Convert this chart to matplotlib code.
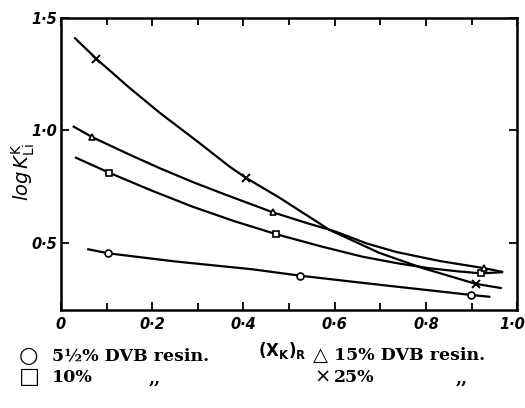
import matplotlib
matplotlib.use("Agg")
import matplotlib.pyplot as plt
import matplotlib.transforms as mtransforms
from matplotlib.ticker import FixedLocator

# measured points (markers)
circ_x = [0.104, 0.523, 0.899]
circ_y = [0.454, 0.355, 0.269]
sq_x = [0.106, 0.472, 0.921]
sq_y = [0.812, 0.539, 0.365]
tri_x = [0.069, 0.465, 0.928]
tri_y = [0.970, 0.636, 0.388]
cross_x = [0.078, 0.406, 0.910]
cross_y = [1.318, 0.789, 0.318]

# drawn curves
circ_cx = [0.060, 0.104, 0.250, 0.420, 0.523, 0.630, 0.735, 0.820, 0.899, 0.939]
circ_cy = [0.472, 0.454, 0.418, 0.383, 0.355, 0.330, 0.306, 0.287, 0.269, 0.261]
sq_cx = [0.033, 0.106, 0.200, 0.289, 0.380, 0.472, 0.570, 0.661, 0.740, 0.807, 0.870, 0.921, 0.967]
sq_cy = [0.879, 0.812, 0.732, 0.661, 0.597, 0.539, 0.485, 0.439, 0.409, 0.388, 0.374, 0.365, 0.370]
tri_cx = [0.028, 0.069, 0.150, 0.217, 0.290, 0.363, 0.465, 0.540, 0.603, 0.670, 0.735, 0.830, 0.928, 0.967]
tri_cy = [1.017, 0.970, 0.893, 0.832, 0.770, 0.713, 0.636, 0.588, 0.550, 0.498, 0.460, 0.420, 0.388, 0.372]
cross_cx = [0.031, 0.078, 0.150, 0.217, 0.300, 0.370, 0.406, 0.480, 0.589, 0.698, 0.792, 0.910, 0.964]
cross_cy = [1.410, 1.318, 1.190, 1.078, 0.950, 0.839, 0.789, 0.700, 0.558, 0.456, 0.389, 0.318, 0.300]

xticks = [0, 0.2, 0.4, 0.6, 0.8, 1.0]
xlabels = ["0", "0·2", "0·4", "0·6", "0·8", "1·0"]
yticks = [0.5, 1.0, 1.5]
ylabels = ["0·5", "1·0", "1·5"]

fig = plt.figure(figsize=(5.25, 4.08), dpi=100)
ax = fig.add_axes([0.116, 0.239, 0.869, 0.717])

lw = 1.6
ax.plot(circ_cx, circ_cy, color="black", lw=lw)
ax.plot(sq_cx, sq_cy, color="black", lw=lw)
ax.plot(tri_cx, tri_cy, color="black", lw=lw)
ax.plot(cross_cx, cross_cy, color="black", lw=lw)

ax.plot(circ_x, circ_y, "o", ms=5, mfc="white", mec="black", mew=1.2)
ax.plot(sq_x, sq_y, "s", ms=5, mfc="white", mec="black", mew=1.2)
ax.plot(tri_x, tri_y, "^", ms=5, mfc="white", mec="black", mew=1.2)
ax.plot(cross_x, cross_y, "x", ms=6, color="black", mew=1.4)

ax.set_xlim(0, 1.0)
ax.set_ylim(0.2, 1.5)

for s in ax.spines.values():
    s.set_linewidth(1.8)

ax.xaxis.set_major_locator(FixedLocator(xticks))
ax.xaxis.set_minor_locator(FixedLocator([0.1, 0.3, 0.5, 0.7, 0.9]))
ax.yaxis.set_major_locator(FixedLocator(yticks))
ax.tick_params(axis="both", which="both", direction="in", top=True, right=True,
               width=1.3)
ax.tick_params(axis="both", which="major", length=6)
ax.tick_params(axis="both", which="minor", length=5)

ax.set_xticklabels(xlabels, fontsize=10.5, fontstyle="italic", fontweight="bold")
ax.set_yticklabels(ylabels, fontsize=10.5, fontstyle="italic", fontweight="bold")
ax.tick_params(axis="x", pad=5)
ax.tick_params(axis="y", pad=3)
# last x label sits against the right edge in the original
last = ax.get_xticklabels()[-1]
last.set_transform(last.get_transform() +
                   mtransforms.ScaledTranslation(-5 / 100, 0, fig.dpi_scale_trans))

fig.text(0.045, 0.578, r"$\mathit{log}\,K^{\mathrm{K}}_{\mathrm{Li}}$", fontsize=14,
         rotation=90, ha="center", va="center")
fig.text(0.537, 0.142, r"$\mathbf{(X_{K})_{R}}$", fontsize=12, ha="center",
         va="center")

serif = ["DejaVu Serif"]
fs = 12.5
sym = 16
y1, y2 = 0.128, 0.075
fig.text(0.036, y1, "○", fontsize=sym, family="DejaVu Sans", va="center")
fig.text(0.099, y1, "5½% DVB resin.", fontsize=fs, family=serif,
         fontweight="bold", va="center")
fig.text(0.036, y2, "□", fontsize=sym, family="DejaVu Sans", va="center")
fig.text(0.099, y2, "10%", fontsize=fs, family=serif, fontweight="bold", va="center")
fig.text(0.283, y2 - 0.005, ",,", fontsize=fs, family=serif, fontweight="bold",
         va="center")

fig.text(0.596, y1, "△", fontsize=sym - 2, family="DejaVu Sans", va="center")
fig.text(0.636, y1, "15% DVB resin.", fontsize=fs, family=serif,
         fontweight="bold", va="center")
fig.text(0.598, y2, "×", fontsize=sym - 2, family="DejaVu Sans", va="center")
fig.text(0.636, y2, "25%", fontsize=fs, family=serif, fontweight="bold", va="center")
fig.text(0.868, y2 - 0.005, ",,", fontsize=fs, family=serif, fontweight="bold",
         va="center")

fig.savefig("out.png", dpi=100)
